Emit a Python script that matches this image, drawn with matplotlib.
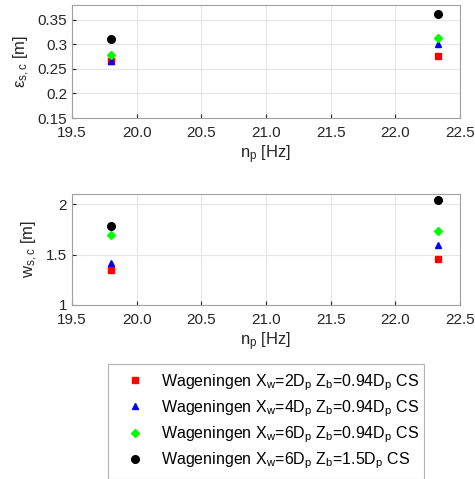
import matplotlib.pyplot as plt
from matplotlib.ticker import MultipleLocator

plt.rcParams['font.family'] = ['Liberation Sans', 'DejaVu Sans']
plt.rcParams['mathtext.fontset'] = 'custom'
plt.rcParams['mathtext.rm'] = 'Liberation Sans'
plt.rcParams['mathtext.it'] = 'Liberation Sans'

# propeller speeds [Hz]
n_p = [19.8, 22.33]

# scour depth eps_s,c [m]
eps_2D = [0.265, 0.276]
eps_4D = [0.267, 0.301]
eps_6D = [0.278, 0.313]
eps_6D_15 = [0.310, 0.362]

# scour width w_s,c [m]
w_2D = [1.345, 1.46]
w_4D = [1.42, 1.595]
w_6D = [1.69, 1.735]
w_6D_15 = [1.78, 2.04]

labels = [
    r'Wageningen X$_\mathrm{w}$=2D$_\mathrm{p}$ Z$_\mathrm{b}$=0.94D$_\mathrm{p}$ CS',
    r'Wageningen X$_\mathrm{w}$=4D$_\mathrm{p}$ Z$_\mathrm{b}$=0.94D$_\mathrm{p}$ CS',
    r'Wageningen X$_\mathrm{w}$=6D$_\mathrm{p}$ Z$_\mathrm{b}$=0.94D$_\mathrm{p}$ CS',
    r'Wageningen X$_\mathrm{w}$=6D$_\mathrm{p}$ Z$_\mathrm{b}$=1.5D$_\mathrm{p}$ CS',
]
styles = [('s', 'red', 3.8), ('^', 'blue', 5), ('D', '#00ff00', 4), ('o', 'black', 5.5)]

W, H = 475, 479
fig = plt.figure(figsize=(W / 100, H / 100), dpi=100)
ax1 = fig.add_axes([72 / W, 1 - 118 / H, (460 - 72) / W, (118 - 5) / H])
ax2 = fig.add_axes([72 / W, 1 - 305 / H, (460 - 72) / W, (305 - 194) / H])

handles = []
for ys, (m, c, s), lab in zip([eps_2D, eps_4D, eps_6D, eps_6D_15], styles, labels):
    h = ax1.plot(n_p, ys, linestyle='none', marker=m, color=c, markersize=s,
                 label=lab)[0]
    handles.append(h)
for ys, (m, c, s) in zip([w_2D, w_4D, w_6D, w_6D_15], styles):
    ax2.plot(n_p, ys, linestyle='none', marker=m, color=c, markersize=s)

for ax in (ax1, ax2):
    ax.set_xlim(19.5, 22.5)
    ax.xaxis.set_major_locator(MultipleLocator(0.5))
    ax.grid(True, color='#e6e6e6', linewidth=0.8)
    ax.set_axisbelow(True)
    ax.tick_params(labelsize=11, colors='#262626', direction='in', length=3)
    ax.tick_params(axis='x', pad=6)
    for sp in ax.spines.values():
        sp.set_color('#a0a0a0')
    ax.set_xlabel(r'n$_\mathrm{p}$ [Hz]', fontsize=12, color='#262626', labelpad=2)

ax1.set_ylim(0.15, 0.38)
ax1.set_yticks([0.15, 0.2, 0.25, 0.3, 0.35])
ax1.set_yticklabels(['0.15', '0.2', '0.25', '0.3', '0.35'])
ax1.set_ylabel(r'$\epsilon_\mathrm{s,c}$ [m]', fontsize=12, color='#262626')

ax2.set_ylim(1, 2.1)
ax2.set_yticks([1, 1.5, 2])
ax2.set_yticklabels(['1', '1.5', '2'])
ax2.set_ylabel(r'w$_\mathrm{s,c}$ [m]', fontsize=12, color='#262626')

leg = fig.legend(handles=handles, loc='upper left',
                 bbox_to_anchor=(108 / W, 1 - 477 / H, (424 - 108) / W, (477 - 364) / H),
                 mode='expand', fontsize=11.5, frameon=True, fancybox=False,
                 edgecolor='#a0a0a0', handletextpad=0.4, handlelength=2.4,
                 borderaxespad=0, labelspacing=0.35, borderpad=0.5)
leg.get_frame().set_linewidth(0.8)

fig.savefig('out.png', dpi=100)
